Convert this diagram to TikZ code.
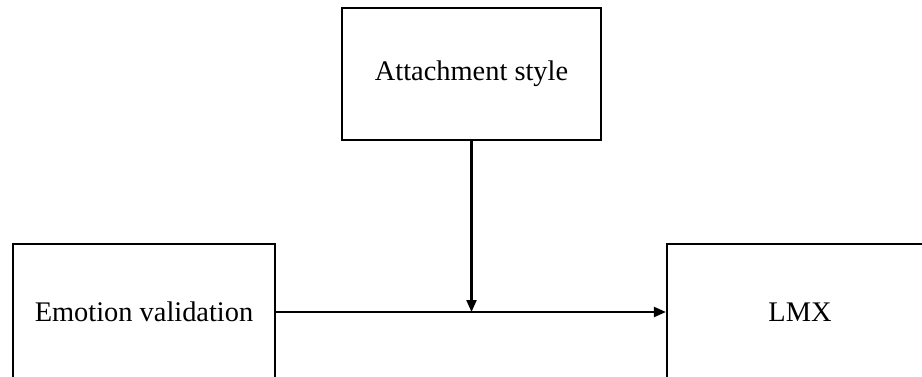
\documentclass[tikz,border=0pt]{standalone}
\usepackage{fontspec}
\setmainfont{Liberation Serif}
\usetikzlibrary{arrows.meta}
\begin{document}
\begin{tikzpicture}[x=0.5pt,y=-0.5pt,
  box/.style={draw,line width=1.1pt,rectangle,inner sep=0pt,font=\fontsize{14.2}{17}\selectfont},
  arr/.style={line width=1.1pt,-{Triangle[length=6pt,width=5pt]}}]
\useasboundingbox (0,0) rectangle (922,376);
\clip (0,0) rectangle (922,376);
\node[box,minimum width=129.5pt,minimum height=66pt] (att) at (471.5,74) {Attachment style};
\node[box,minimum width=131pt,minimum height=68pt] (ev) at (144,312) {Emotion validation};
\node[box,minimum width=133pt,minimum height=68pt] (lmx) at (800,312) {LMX};
\coordinate (j) at (att.south |- ev.east);
\draw[arr] (ev.east) -- (lmx.west);
\draw[arr] (att.south) -- (j);
\end{tikzpicture}
\end{document}
